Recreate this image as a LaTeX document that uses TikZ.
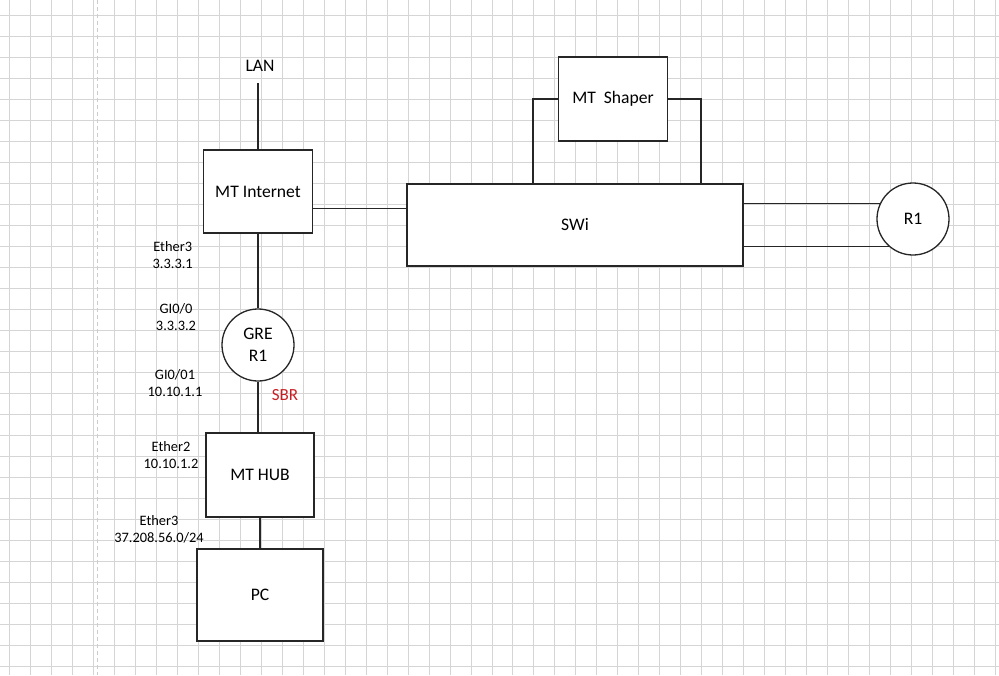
\documentclass[tikz,border=0pt]{standalone}
\usepackage{fontspec}
\setmainfont{Carlito}
\usetikzlibrary{calc}

\definecolor{sbrred}{RGB}{200,30,35}

\tikzset{
  gridline/.style={draw=gray!33, line width=0.8pt},
  pagebreak/.style={draw=gray!40, line width=1pt, dash pattern=on 4pt off 3pt},
  link/.style={draw=black!85, line width=1.3pt},
  devbox/.style={draw=black!85, fill=white, line width=1.3pt, inner sep=0pt,
    font=\fontsize{17.6}{21}\selectfont},
  router/.style={circle, draw=black!85, fill=white, line width=1.3pt, inner sep=0pt,
    minimum size=72pt, align=center, font=\fontsize{17.6}{22}\selectfont},
  port/.style={align=center, inner sep=0pt, font=\fontsize{14.4}{17}\selectfont}
}

\begin{document}
\begin{tikzpicture}[x=1pt,y=-1pt]
\useasboundingbox (0,0) rectangle (999,675);
\fill[white] (0,0) rectangle (999,675);

% background grid
\foreach \i in {0,...,47}
  \draw[gridline] (9.6+\i*20.97,0) -- (9.6+\i*20.97,675);
\foreach \j in {0,...,31}
  \draw[gridline] (0,15+\j*21) -- (999,15+\j*21);
\draw[pagebreak] (97.6,0) -- (97.6,675);

% devices
\node[devbox, minimum width=109pt, minimum height=83pt] (inet) at (258,191.5) {MT Internet};
\node[devbox, minimum width=336pt, minimum height=82pt] (swi) at (575,225) {SWi};
\node[devbox, minimum width=109pt, minimum height=84pt] (shaper) at (613,99) {MT\ \ Shaper};
\node[router] (r1) at (913,219) {R1};
\node[router] (gre) at (258,345) {GRE\\R1};
\node[devbox, minimum width=108pt, minimum height=84pt] (hub) at (260,475) {MT HUB};
\node[devbox, minimum width=126pt, minimum height=92pt] (pc) at (260,595) {PC};

\node[font=\fontsize{17.6}{21}\selectfont, inner sep=0pt] (lan) at (260,66) {LAN};
\coordinate (lanend) at (258,83);

% port labels
\node[port] (inetport) at (172.7,255) {Ether3\\3.3.3.1};
\node[port] (greup) at (176,317.5) {GI0/0\\3.3.3.2};
\node[port] (gredown) at (175,383) {GI0/01\\10.10.1.1};
\node[port, text=sbrred, font=\fontsize{17}{20}\selectfont] (sbr) at (285,395) {SBR};
\node[port] (hubup) at (171,455.5) {Ether2\\10.10.1.2};
\node[port] (hubdown) at (159,529.5) {Ether3\\37.208.56.0/24};

% links
\draw[link] (lanend) -- (lanend |- inet.north);
\draw[link] ([yshift=-17pt]inet.east) -- ([yshift=-17pt]inet.east -| swi.west);
\draw[link] (shaper.west) -| ([xshift=-42pt]swi.north);
\draw[link] (shaper.east) -| ([xshift=126pt]swi.north);
\draw[link] (r1.155) -- (r1.155 -| swi.east);
\draw[link] (r1.229) -- (r1.229 -| swi.east);
\draw[link] (inet.south) -- (gre.north);
\draw[link] (gre.south) -- (gre.south |- hub.north);
\draw[link] (hub.south) -- (pc.north);

\end{tikzpicture}
\end{document}
